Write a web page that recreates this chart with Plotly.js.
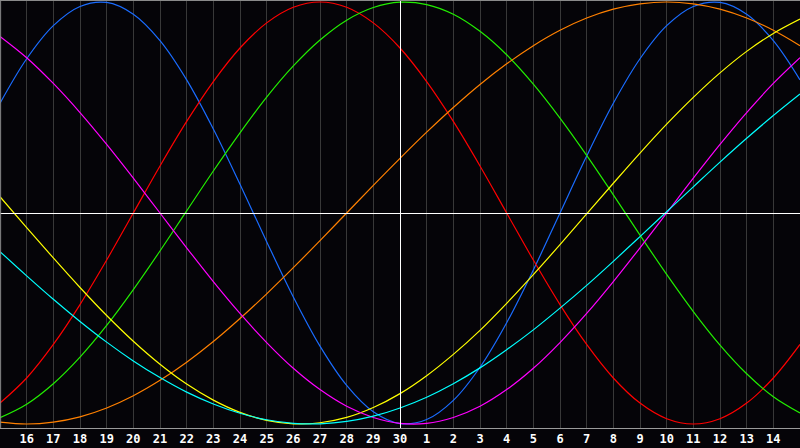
<!DOCTYPE html>
<html>
<head>
<meta charset="utf-8">
<script src="https://cdn.plot.ly/plotly-3.0.1.min.js"></script>
<style>
html,body{margin:0;padding:0;background:#050408;}
#chart{width:800px;height:448px;}
</style>
</head>
<body>
<div id="chart"></div>
<script>
// day index 0..30 (index 0 = day 15, index 15 = day 30, index 30 = day 15 of next month)
const dayIndex = [0,1,2,3,4,5,6,7,8,9,10,11,12,13,14,15,16,17,18,19,20,21,22,23,24,25,26,27,28,29,30];
const tickPositions = [1,2,3,4,5,6,7,8,9,10,11,12,13,14,15,16,17,18,19,20,21,22,23,24,25,26,27,28,29];
const tickLabels = ["16","17","18","19","20","21","22","23","24","25","26","27","28","29","30",
                    "1","2","3","4","5","6","7","8","9","10","11","12","13","14"];

const physical = [0.520,0.731,0.888,0.979,0.998,0.942,0.817,0.631,0.398,0.136,-0.136,-0.398,-0.631,-0.817,-0.942,-0.998,
                  -0.979,-0.888,-0.731,-0.520,-0.270,0.000,0.270,0.520,0.731,0.888,0.979,0.998,0.942,0.817,0.631];
const emotional = [-0.901,-0.782,-0.623,-0.434,-0.223,0.000,0.223,0.434,0.623,0.782,0.901,0.975,1.000,0.975,0.901,0.782,
                   0.623,0.434,0.223,0.000,-0.223,-0.434,-0.623,-0.782,-0.901,-0.975,-1.000,-0.975,-0.901,-0.782,-0.623];
const intellectual = [-0.970,-0.906,-0.809,-0.683,-0.533,-0.363,-0.180,0.010,0.199,0.380,0.549,0.697,0.820,0.914,0.974,0.999,
                      0.988,0.942,0.861,0.750,0.611,0.450,0.273,0.086,-0.105,-0.291,-0.467,-0.626,-0.762,-0.871,-0.948];
const awareness = [-0.991,-1.000,-0.991,-0.966,-0.924,-0.866,-0.793,-0.707,-0.609,-0.500,-0.383,-0.259,-0.131,0.000,0.131,0.259,
                   0.383,0.500,0.609,0.707,0.793,0.866,0.924,0.966,0.991,1.000,0.991,0.966,0.924,0.866,0.793];
const aesthetic = [0.077,-0.069,-0.213,-0.353,-0.486,-0.608,-0.717,-0.811,-0.887,-0.945,-0.983,-0.999,-0.994,-0.969,-0.922,-0.856,
                   -0.771,-0.670,-0.556,-0.428,-0.292,-0.150,-0.004,0.141,0.284,0.421,0.548,0.664,0.766,0.851,0.919];
const intuitive = [0.837,0.736,0.614,0.476,0.325,0.165,0.000,-0.165,-0.325,-0.476,-0.614,-0.736,-0.837,-0.916,-0.969,-0.997,
                   -0.997,-0.969,-0.916,-0.837,-0.736,-0.614,-0.476,-0.325,-0.165,0.000,0.165,0.325,0.476,0.614,0.736];
const spiritual = [-0.183,-0.298,-0.409,-0.514,-0.612,-0.701,-0.780,-0.849,-0.905,-0.949,-0.980,-0.997,-0.999,-0.988,-0.963,-0.924,
                   -0.873,-0.809,-0.734,-0.648,-0.554,-0.451,-0.343,-0.229,-0.112,0.006,0.124,0.241,0.354,0.462,0.564];

const seriesNames = ["Physical","Emotional","Intellectual","Awareness","Aesthetic","Intuitive","Spiritual"];
const seriesData = [physical, emotional, intellectual, awareness, aesthetic, intuitive, spiritual];
const seriesColors = ["#1a6cff","#ff0000","#22ee00","#ff8000","#ffff00","#ff00ff","#00ffff"];

const traces = seriesData.map((ys, k) => ({
  x: dayIndex, y: ys, name: seriesNames[k], type: "scatter", mode: "lines",
  line: {color: seriesColors[k], width: 1.2, shape: "spline", smoothing: 1},
  hoverinfo: "skip", showlegend: false
}));

const layout = {
  width: 800, height: 448,
  margin: {l: 0, r: 0, t: 0, b: 20, pad: 0},
  paper_bgcolor: "#050408", plot_bgcolor: "#050408",
  showlegend: false,
  xaxis: {
    range: [0, 30], tickmode: "array", tickvals: tickPositions, ticktext: tickLabels,
    showgrid: true, gridcolor: "#383838", gridwidth: 1, zeroline: false,
    showline: true, linecolor: "#9a9a9a", linewidth: 1, ticks: "",
    tickfont: {family: "DejaVu Sans Mono", size: 12, color: "#ffffff", weight: "bold"},
    fixedrange: true
  },
  yaxis: {
    range: [-1.019, 1.0095], showgrid: false, showticklabels: false, ticks: "",
    zeroline: false, showline: false, fixedrange: true
  },
  shapes: [
    {type: "line", xref: "x", yref: "paper", x0: 15.019, x1: 15.019, y0: 0, y1: 1,
     line: {color: "#ffffff", width: 1}, layer: "above"},
    {type: "line", xref: "paper", yref: "y", x0: 0, x1: 1, y0: -0.0024, y1: -0.0024,
     line: {color: "#ffffff", width: 1}, layer: "above"},
    {type: "line", xref: "paper", yref: "paper", x0: 0.0008, x1: 0.0008, y0: 0, y1: 1,
     line: {color: "#8a8a8a", width: 1}},
    {type: "line", xref: "paper", yref: "paper", x0: 0, x1: 1, y0: 0.9988, y1: 0.9988,
     line: {color: "#8a8a8a", width: 1}}
  ]
};

Plotly.newPlot("chart", traces, layout, {staticPlot: true, displayModeBar: false});
</script>
</body>
</html>
